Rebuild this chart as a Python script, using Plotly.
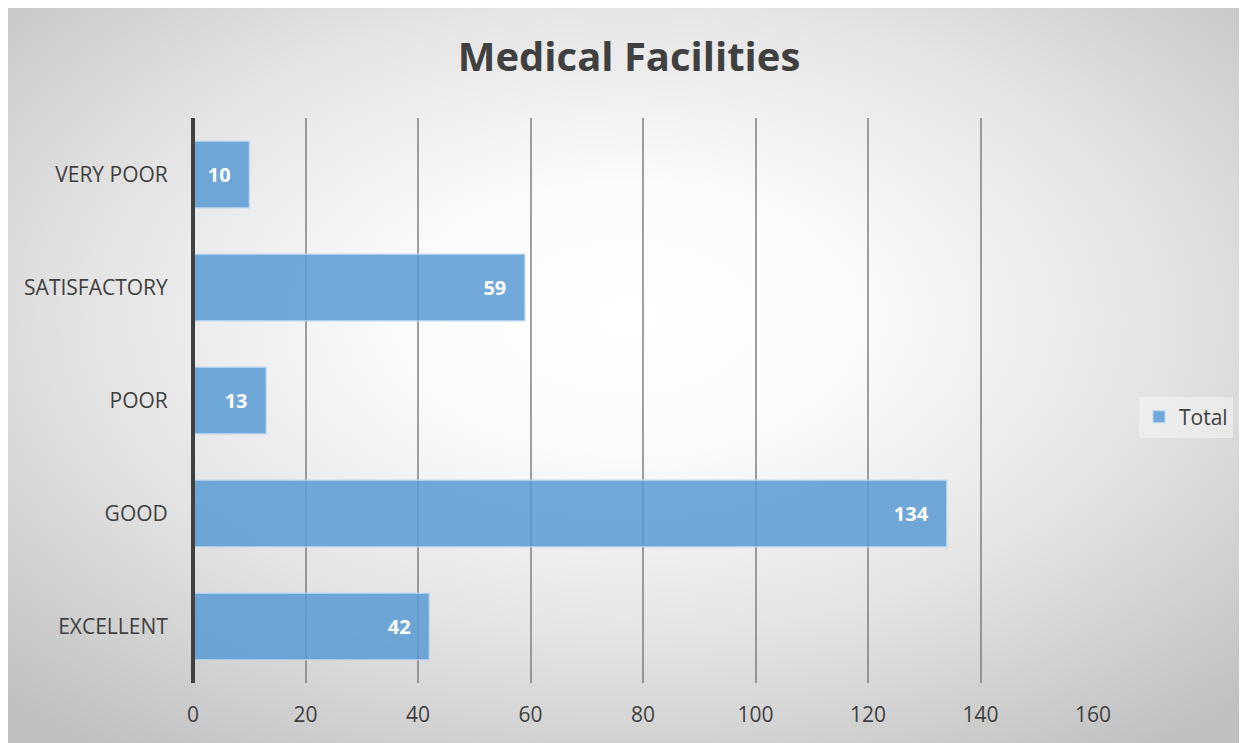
import base64
import plotly.graph_objects as go

categories = ["EXCELLENT", "GOOD", "POOR", "SATISFACTORY", "VERY POOR"]
values = [42, 134, 13, 59, 10]
series_name = "Total"
x_ticks = [0, 20, 40, 60, 80, 100, 120, 140, 160]

OFF = 8  # page body margin
W, H = 1239, 737
L, T = 193 - OFF, 118 - OFF
R = W - (1093 - OFF)
B = H - (683 - OFF)
pw, ph = W - L - R, H - T - B

svg = """<svg xmlns='http://www.w3.org/2000/svg' width='1239' height='737' viewBox='0 0 100 100' preserveAspectRatio='none'>
<defs><radialGradient id='g' cx='0.5' cy='0.42' r='0.72' gradientUnits='objectBoundingBox'>
<stop offset='0' stop-color='#ffffff'/><stop offset='0.25' stop-color='#fbfbfb'/>
<stop offset='0.6' stop-color='#e4e4e4'/><stop offset='1' stop-color='#c0c0c0'/></radialGradient></defs>
<rect x='0' y='0' width='100' height='100' fill='url(#g)'/></svg>"""
src = "data:image/svg+xml;base64," + base64.b64encode(svg.encode()).decode()

font = "Open Sans"
fig = go.Figure()
fig.add_trace(go.Bar(
    y=categories, x=values, orientation="h", name=series_name,
    marker=dict(color="rgba(91,155,213,0.86)", line=dict(color="rgba(189,215,238,0.9)", width=1.2)),
    text=[f"{v}\u00a0\u00a0\u00a0" for v in values],
    textposition="inside", insidetextanchor="end",
    textfont=dict(color="white", size=20, family=font, weight="bold"),
    cliponaxis=False,
))

fig.update_layout(
    width=W, height=H,
    margin=dict(l=L, r=R, t=T, b=B, autoexpand=False),
    paper_bgcolor="#d0d0d0", plot_bgcolor="rgba(0,0,0,0)",
    bargap=0.41,
    title=dict(text="<b>Medical Facilities</b>", x=(629 - OFF) / W, xanchor="center",
               y=1 - (57 - OFF) / H, yanchor="middle",
               font=dict(family=font, size=40, color="#404040")),
    font=dict(family=font, color="#404040", size=21),
    showlegend=True,
    legend=dict(x=(1139 - 193) / pw, xanchor="left", y=(683 - 417) / ph, yanchor="middle",
                bgcolor="rgba(245,245,245,0.55)", font=dict(size=21, color="#404040"),
                itemwidth=30, tracegroupgap=0),
    images=[dict(source=src, xref="paper", yref="paper",
                 x=-L / pw, y=(H - B) / ph, sizex=W / pw, sizey=H / ph,
                 xanchor="left", yanchor="top", sizing="stretch", layer="below")],
    xaxis=dict(range=[0, 160], tickvals=x_ticks, showgrid=True,
               gridcolor="rgba(120,120,120,0.7)", gridwidth=1.5,
               zeroline=True, zerolinecolor="#404040", zerolinewidth=4,
               layer="above traces",
               ticks="outside", ticklen=13, tickcolor="rgba(0,0,0,0)",
               tickfont=dict(size=21, color="#404040"), showline=False, fixedrange=True),
    yaxis=dict(categoryorder="array", categoryarray=categories, showgrid=False,
               showline=False, zeroline=False,
               ticks="outside", ticklen=20, tickcolor="rgba(0,0,0,0)",
               tickfont=dict(size=21, color="#404040")),
)
try:
    fig.update_xaxes(zerolinelayer="above traces")
except Exception:
    pass

fig.write_html("out.html")
